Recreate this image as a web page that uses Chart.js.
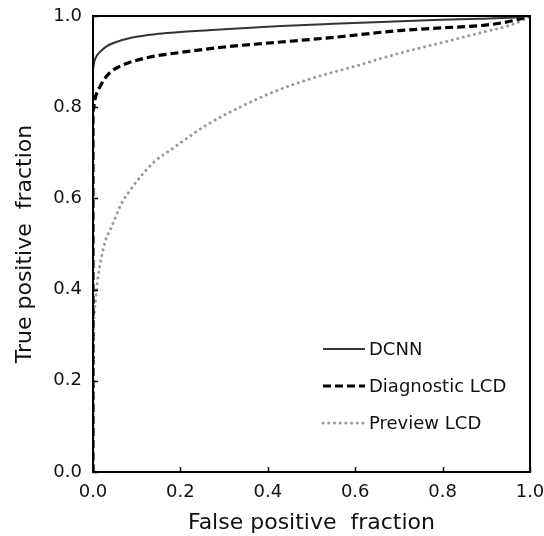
<!DOCTYPE html>
<html>
<head>
<meta charset="utf-8">
<script src="https://cdn.jsdelivr.net/npm/chart.js@4"></script>
<style>
  html, body { margin: 0; padding: 0; background: #fff; }
  #wrap { width: 544px; height: 536px; position: relative; }
</style>
</head>
<body>
<div id="wrap"><canvas id="c" width="544" height="536"></canvas></div>
<script>
// ---- data ----
const seriesNames = ["DCNN", "Diagnostic LCD", "Preview LCD"];

const dcnnFPF = [0, 0, 0.003, 0.008, 0.016, 0.03, 0.05, 0.09, 0.15, 0.2, 0.3, 0.43, 0.55, 0.66, 0.78, 0.886, 0.95, 1.0];
const dcnnTPF = [0, 0.885, 0.9, 0.912, 0.921, 0.933, 0.942, 0.953, 0.961, 0.965, 0.971, 0.978, 0.983, 0.987, 0.991, 0.994, 0.996, 1.0];

const diagFPF = [0, 0, 0.004, 0.01, 0.016, 0.025, 0.04, 0.06, 0.08, 0.13, 0.2, 0.3, 0.43, 0.55, 0.7, 0.8, 0.886, 0.93, 0.975, 1.0];
const diagTPF = [0, 0.79, 0.815, 0.835, 0.845, 0.86, 0.877, 0.889, 0.897, 0.91, 0.92, 0.932, 0.943, 0.953, 0.968, 0.974, 0.979, 0.984, 0.993, 1.0];

const prevFPF = [0, 0.001, 0.002, 0.006, 0.008, 0.014, 0.029, 0.039, 0.066, 0.085, 0.108, 0.14, 0.183, 0.26, 0.336, 0.412, 0.49, 0.6, 0.7, 0.8, 0.886, 0.97, 1.0];
const prevTPF = [0, 0.29, 0.333, 0.377, 0.40, 0.443, 0.509, 0.53, 0.59, 0.618, 0.647, 0.68, 0.71, 0.761, 0.80, 0.833, 0.86, 0.89, 0.918, 0.942, 0.963, 0.985, 1.0];

const tickValues = [0, 0.2, 0.4, 0.6, 0.8, 1.0];
const xTitle = "False positive  fraction";
const yTitle = "True positive  fraction";

const toPts = (xs, ys) => xs.map((x, i) => ({ x: x, y: ys[i] }));

const FONT = "'DejaVu Sans', Verdana, sans-serif";

const frameAndTicks = {
  id: 'frameAndTicks',
  afterDatasetsDraw(chart) {
    const { ctx, chartArea: a, scales } = chart;
    ctx.save();
    ctx.strokeStyle = '#000';
    ctx.lineWidth = 1.5;
    // inward ticks
    ctx.beginPath();
    scales.x.ticks.forEach(t => {
      const px = Math.round(scales.x.getPixelForValue(t.value)) + 0.5;
      ctx.moveTo(px, a.bottom); ctx.lineTo(px, a.bottom - 5);
    });
    scales.y.ticks.forEach(t => {
      const py = Math.round(scales.y.getPixelForValue(t.value)) + 0.5;
      ctx.moveTo(a.left, py); ctx.lineTo(a.left + 5, py);
    });
    ctx.stroke();
    ctx.lineWidth = 2;
    ctx.strokeRect(a.left, a.top, a.right - a.left, a.bottom - a.top);
    ctx.restore();
  },
  afterDraw(chart) {
    // legend inside plot area, lower right
    const { ctx } = chart;
    const x0 = 323, x1 = 365, tx = 369;
    const ys = [349, 386, 423];
    ctx.save();
    chart.data.datasets.forEach((ds, i) => {
      ctx.beginPath();
      ctx.strokeStyle = ds.borderColor;
      ctx.lineWidth = ds.borderWidth;
      ctx.setLineDash(ds.borderDash || []);
      ctx.lineCap = ds.borderCapStyle || 'butt';
      ctx.moveTo(x0, ys[i]); ctx.lineTo(x1, ys[i]);
      ctx.stroke();
      ctx.setLineDash([]);
      ctx.fillStyle = '#111';
      ctx.font = '18px ' + FONT;
      ctx.textBaseline = 'middle';
      ctx.textAlign = 'left';
      ctx.fillText(ds.label, tx, ys[i] + 1);
    });
    ctx.restore();
  }
};

new Chart(document.getElementById('c'), {
  type: 'line',
  data: {
    datasets: [
      { label: seriesNames[0], data: toPts(dcnnFPF, dcnnTPF), borderColor: '#333333', borderWidth: 2,
        pointRadius: 0, cubicInterpolationMode: 'monotone', fill: false },
      { label: seriesNames[1], data: toPts(diagFPF, diagTPF), borderColor: '#000000', borderWidth: 3.2,
        borderDash: [8, 4], pointRadius: 0, cubicInterpolationMode: 'monotone', fill: false },
      { label: seriesNames[2], data: toPts(prevFPF, prevTPF), borderColor: '#999999', borderWidth: 3,
        borderDash: [0.01, 5.7], borderCapStyle: 'round', pointRadius: 0, cubicInterpolationMode: 'monotone', fill: false }
    ]
  },
  options: {
    responsive: false,
    animation: false,
    events: [],
    layout: { padding: { top: 16, right: 14, left: 0, bottom: 0 } },
    plugins: { legend: { display: false }, tooltip: { enabled: false } },
    scales: {
      x: {
        type: 'linear', min: 0, max: 1,
        afterBuildTicks: s => { s.ticks = tickValues.map(v => ({ value: v })); },
        afterFit: s => { s.height = 64; s.paddingLeft = 0; s.paddingRight = 0; },
        grid: { display: false, drawTicks: false },
        border: { display: false },
        ticks: { padding: 10, color: '#111', font: { family: FONT, size: 18 },
                 maxRotation: 0, autoSkip: false, callback: v => v.toFixed(1) },
        title: { display: true, text: xTitle, color: '#111', font: { family: FONT, size: 22 },
                 padding: { top: 1, bottom: 0 } }
      },
      y: {
        type: 'linear', min: 0, max: 1,
        afterBuildTicks: s => { s.ticks = tickValues.map(v => ({ value: v })); },
        afterFit: s => { s.width = 93; s.paddingTop = 0; s.paddingBottom = 0; },
        grid: { display: false, drawTicks: false },
        border: { display: false },
        ticks: { padding: 11, color: '#111', font: { family: FONT, size: 18 },
                 autoSkip: false, callback: v => v.toFixed(1) },
        title: { display: true, text: yTitle, color: '#111', font: { family: FONT, size: 22 },
                 padding: { top: 12, bottom: 0 } }
      }
    }
  },
  plugins: [frameAndTicks]
});
</script>
</body>
</html>
